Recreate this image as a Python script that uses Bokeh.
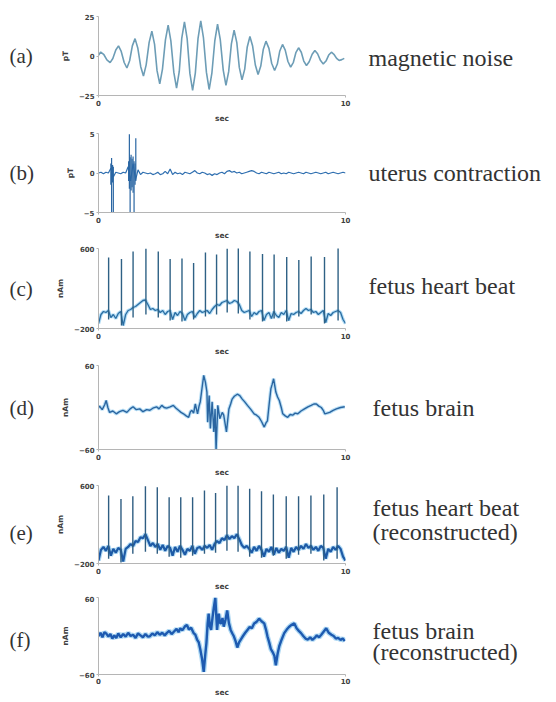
import numpy as np
from bokeh.plotting import figure
from bokeh.layouts import column, row
from bokeh.models import Range1d, FixedTicker
from bokeh.core.properties import value
from bokeh.embed import file_html
from bokeh.resources import INLINE

# ---------------- data ----------------
# (a) magnetic noise [pT]
a_t = [0.00, 0.09, 0.22, 0.34, 0.47, 0.58, 0.70, 0.81, 0.92, 1.04, 1.15, 1.26, 1.37, 1.48, 1.59,
       1.71, 1.82, 1.93, 2.05, 2.16, 2.27, 2.37, 2.48, 2.59, 2.71, 2.82, 2.93, 3.05, 3.16, 3.27,
       3.37, 3.48, 3.59, 3.70, 3.81, 3.92, 4.03, 4.14, 4.25, 4.37, 4.48, 4.59, 4.71, 4.82, 4.93,
       5.05, 5.16, 5.27, 5.38, 5.49, 5.60, 5.70, 5.81, 5.92, 6.02, 6.13, 6.24, 6.35, 6.46, 6.57,
       6.67, 6.78, 6.90, 7.01, 7.13, 7.24, 7.34, 7.45, 7.56, 7.67, 7.78, 7.89, 7.99, 8.10, 8.21,
       8.31, 8.42, 8.53, 8.65, 8.76, 8.87, 8.99, 9.10, 9.21, 9.32, 9.43, 9.53, 9.64, 9.74, 9.85, 9.95]
a_v = [0.5, 2.5, 0.8, -2.5, -4.2, -1.6, 3.8, 6.4, 2.9, -4.1, -7.6, -3.0, 6.4, 11.0, 5.1,
       -6.8, -12.7, -5.6, 8.6, 15.7, 7.4, -9.3, -17.6, -8.3, 10.2, 19.5, 9.6, -10.4, -20.3, -9.8,
       11.1, 21.6, 10.8, -11.0, -21.8, -10.8, 11.2, 22.2, 11.4, -10.4, -21.2, -10.9, 9.8, 20.1, 10.4,
       -8.9, -18.6, -9.9, 7.7, 16.4, 8.5, -7.2, -15.1, -8.3, 5.5, 12.3, 6.3, -5.7, -11.7, -6.4,
       4.1, 9.4, 4.8, -4.6, -9.2, -5.1, 3.2, 7.3, 3.7, -3.5, -7.1, -4.0, 2.1, 5.2, 2.4,
       -3.2, -6.0, -3.6, 1.1, 3.5, 1.4, -2.9, -5.0, -3.2, 0.6, 2.4, 1.1, -1.5, -2.8, -2.3, -1.5]

# (b) uterus contraction [pT]: baseline every 0.1 s, plus burst spikes
b_base = [0.0, 0.1, -0.1, 0.1, 0.0, 0.6, -0.5, 0.1, 0.0, -0.1,
          0.1, 0.0, 0.8, -1.0, 1.2, -0.9, 0.4, -0.2, 0.1, 0.0,
          -0.1, 0.0, -0.2, -0.1, 0.1, -0.2, -0.1, 0.2, -0.1, 0.5,
          -0.2, 0.1, -0.1, 0.0, -0.2, 0.1, 0.0, -0.1, 0.1, 0.3,
          0.0, -0.1, 0.1, 0.0, -0.2, -0.1, -0.3, -0.1, -0.2, 0.0,
          0.1, -0.1, 0.2, 0.3, 0.1, 0.2, 0.0, 0.1, -0.1, 0.0,
          0.1, 0.2, 0.3, 0.2, 0.0, -0.1, 0.1, 0.0, -0.1, 0.1,
          0.0, -0.1, 0.0, 0.1, -0.1, 0.0, -0.1, 0.1, 0.0, -0.1,
          0.0, 0.1, 0.0, -0.1, 0.1, 0.0, -0.1, 0.0, 0.1, 0.0,
          -0.1, 0.0, 0.1, -0.1, 0.0, 0.1, 0.0, -0.1, 0.0, 0.1, 0.0]
b_sp_t = [0.50, 0.53, 0.57, 0.60, 1.22, 1.25, 1.28, 1.32, 1.36, 1.40, 1.44, 1.48, 1.51]
b_sp_lo = [-1.5, -5.0, -1.2, -5.0, -1.0, -2.0, -5.0, -2.2, -1.8, -2.5, -5.0, -1.5, -1.0]
b_sp_hi = [1.2, 1.9, 1.0, 0.8, 1.5, 4.9, 2.0, 2.3, 1.8, 2.1, 1.5, 1.2, 4.4]

# (c) fetus heart beat [nAm]
c_beat_t = [0.41, 0.93, 1.40, 1.92, 2.42, 2.90, 3.38, 3.85, 4.33, 4.78,
            5.21, 5.66, 6.13, 6.64, 7.11, 7.62, 8.11, 8.61, 9.15, 9.70]
c_peak = [510, 495, 570, 600, 570, 495, 500, 455, 560, 540,
          600, 610, 570, 545, 540, 515, 485, 520, 515, 605]
c_dip = [-110, -170, -90, -60, -90, -120, -130, -110, -80, -60,
         -40, -50, -110, -130, -100, -130, -80, -60, -150, -120]
c_base = [-150, -60, -30, -40, -20, -90, -60, -100, -50, -30,
          -170, -60, -20, -10, 10, 20, 40, 60, 80, 85,
          40, -10, 0, -20, -10, -40, -20, -60, -30, -20,
          -110, -40, -70, -30, -50, -120, -60, -40, -30, -90,
          -50, -20, -40, -30, -20, -50, -10, 20, 40, 30,
          60, 70, 80, 50, 60, 80, 70, 40, -20, -40,
          -30, -20, -80, -40, -60, -30, -20, -120, -60, -40,
          -100, -30, -70, -90, -40, -60, -20, -120, -50, -60,
          -40, -30, -50, -20, 0, -20, -10, -40, -30, -60,
          -40, -20, -140, -50, -70, -40, -30, -20, -40, -110, -150]

# (d) fetus brain [nAm]
d_t = [0.00, 0.04, 0.15, 0.25, 0.31, 0.38, 0.45, 0.58, 0.72, 0.85,
       0.99, 1.15, 1.28, 1.40, 1.52, 1.67, 1.80, 1.95, 2.08, 2.20,
       2.35, 2.45, 2.56, 2.66, 2.76, 2.90, 3.03, 3.14, 3.24, 3.34,
       3.44, 3.55, 3.65, 3.72, 3.78, 3.85, 3.92, 4.01, 4.07, 4.12,
       4.20, 4.26, 4.33, 4.39, 4.42, 4.48, 4.53, 4.60, 4.67, 4.72,
       4.76, 4.83, 4.91, 5.01, 5.07, 5.18, 5.28, 5.35, 5.41, 5.50,
       5.62, 5.72, 5.82, 5.92, 6.03, 6.15, 6.30, 6.40, 6.50, 6.60,
       6.71, 6.78, 6.84, 6.91, 6.98, 7.03, 7.09, 7.18, 7.25, 7.32,
       7.40, 7.46, 7.56, 7.66, 7.76, 7.86, 7.96, 8.07, 8.20, 8.34,
       8.48, 8.61, 8.72, 8.82, 8.92, 9.02, 9.10, 9.16, 9.26, 9.36,
       9.50, 9.63, 9.80, 9.97]
d_v = [0, 2, -3, 4, 10, 0, -7, -5, -9, -6,
       -4, -7, -2, 1, -3, -2, -6, -3, -4, -1,
       1, -2, 3, 0, -1, 1, 3, -1, -4, -7,
       -9, -12, -14, -6, -4, -8, 5, -9, 2, 8,
       30, 46, 36, 22, -21, 17, -30, 8, -35, -2,
       -61, 3, -16, -7, -11, -35, -2, 5, 12, 16,
       19, 17, 12, 8, 3, -2, -9, -11, -14, -20,
       -28, -22, -19, 5, 27, 33, 41, 22, 15, 10,
       0, -9, -12, -14, -10, -11, -8, -9, -5, -2,
       1, 3, 5, 5, 2, 0, -4, -9, -8, -7,
       -4, -2, 0, 1]

# (e) fetus heart beat, reconstructed [nAm]
e_beat_t = [0.41, 0.91, 1.39, 1.90, 2.38, 2.86, 3.33, 3.81, 4.29, 4.74,
            5.20, 5.65, 6.12, 6.60, 7.08, 7.60, 8.10, 8.60, 9.12, 9.66]
e_peak = [497, 462, 490, 593, 583, 480, 480, 480, 548, 524,
          600, 600, 566, 541, 507, 490, 490, 497, 507, 583]
e_dip = [-150, -190, -100, -80, -100, -130, -140, -120, -100, -90,
         -70, -80, -130, -140, -120, -150, -110, -100, -170, -150]
e_base = [-170, -60, -30, -70, -20, -120, -50, -90, -40, -60,
          -180, -50, -30, 0, -20, 30, 20, 70, 60, 100,
          40, -20, 10, -30, 0, -60, -10, -70, -20, -40,
          -120, -30, -80, -20, -60, -110, -50, -70, -20, -100,
          -40, -30, -60, -20, -40, -10, -60, 0, 30, 10,
          60, 40, 90, 50, 80, 60, 100, 50, -10, -40,
          -20, -50, -90, -30, -70, -20, -60, -130, -50, -80,
          -30, -110, -40, -90, -50, -70, -30, -140, -40, -80,
          -30, -60, -20, -50, 0, -40, -20, -60, -30, -70,
          -20, -40, -150, -50, -80, -30, -60, -20, -50, -130, -170]

# (f) fetus brain, reconstructed [nAm]
f_t = [0.00, 0.08, 0.16, 0.24, 0.31, 0.40, 0.48, 0.56, 0.64, 0.72,
       0.80, 0.90, 1.00, 1.10, 1.20, 1.30, 1.40, 1.50, 1.60, 1.70,
       1.80, 1.90, 2.00, 2.08, 2.18, 2.28, 2.38, 2.48, 2.58, 2.68,
       2.76, 2.86, 2.96, 3.06, 3.16, 3.24, 3.31, 3.40, 3.50, 3.58,
       3.66, 3.75, 3.85, 3.92, 3.99, 4.06, 4.12, 4.19, 4.26, 4.32,
       4.37, 4.42, 4.46, 4.51, 4.56, 4.62, 4.67, 4.73, 4.80, 4.87,
       4.92, 4.97, 5.02, 5.07, 5.14, 5.21, 5.28, 5.35, 5.42, 5.48,
       5.55, 5.62, 5.69, 5.76, 5.85, 5.94, 6.03, 6.12, 6.21, 6.30,
       6.40, 6.50, 6.60, 6.71, 6.78, 6.84, 6.91, 6.98, 7.05, 7.12,
       7.18, 7.25, 7.32, 7.42, 7.52, 7.62, 7.71, 7.80, 7.93, 8.02,
       8.11, 8.20, 8.29, 8.38, 8.48, 8.57, 8.66, 8.75, 8.84, 8.93,
       9.02, 9.12, 9.22, 9.32, 9.43, 9.52, 9.61, 9.70, 9.80, 9.89, 9.97]
f_v = [0, 5, -2, 6, 4, -1, 3, -4, 1, -3,
       4, -2, 3, -1, 5, 0, 2, -3, 4, 1,
       -2, 3, -1, -0.5, 4, 1, 6, 2, 5, 1,
       4.5, 8, 3, 7, 11, 6, 12, 9, 15, 17,
       10, 13, 4.5, 2, -5.5, -10, -20.6, -35, -55.8, -30,
       -10.6, 20, 34.7, 15, 9.5, 30, 44.7, 59.8, 9.5, 34.7,
       20, 19.6, 28, 14.6, 25, 39.7, 20, 9.5, 4, -0.5,
       -8, -18, -10, -5.5, 0, 5, 9.5, 14, 12, 19.6,
       22, 27, 23, 19.6, 10, -0.5, -10, -20.6, -25, -30.7,
       -45.7, -28, -15.6, -5, 4.5, 10, 14, 17, 19.6, 12,
       8, 4.5, 0, -4, -5.5, -2, -6, -3, 1, -2,
       2, 7, 12, 5, 2, 0, -4, -3, -6, -4, -8]

panel_tags = ["(a)", "(b)", "(c)", "(d)", "(e)", "(f)"]
panel_titles = [["magnetic noise"], ["uterus contraction"], ["fetus heart beat"],
                ["fetus brain"], ["fetus heart beat", "(reconstructed)"],
                ["fetus brain", "(reconstructed)"]]
y_units = ["pT", "pT", "nAm", "nAm", "nAm", "nAm"]
y_lims = [(-25, 25), (-5, 5), (-200, 600), (-60, 60), (-200, 600), (-60, 60)]
y_ticks = [[-25, 0, 25], [-5, 0, 5], [-200, 600], [-60, 60], [-200, 600], [-60, 60]]
x_ticks = [0, 10]

# ---------------- layout / styling ----------------
LEFT_W = 44          # column holding "(a)".."(f)"
BORDER_L = 54
FRAME_W = 247
BORDER_R = 12
RIGHT_W = 199        # column holding the descriptions
tops = [16, 6, 4, 5, 4, 2]
frame_hs = [79, 79, 80, 84, 78, 77]
bottoms = [32, 32, 32, 32, 32, 28]
label_standoffs = [5, 5, 5, 5, 5, 1]
tick_standoffs = [2, 2, 2, 2, 2, 1]
tag_x = 9
tag_y = [0, 0, 200, 0, 110, -7]
title_x = [11, 11, 11, 15, 15, 15]
title_y = [[-1], [0], [230], [0], [374, 118], [7.5, -25.5]]
SERIF = "Liberation Serif"
SANS = "DejaVu Sans"
TXT = "#333333"


def text_fig(i, w, xs, ys, texts, size):
    lo, hi = y_lims[i]
    t = figure(frame_width=w, frame_height=frame_hs[i], min_border_left=0, min_border_right=0,
               min_border_top=tops[i], min_border_bottom=bottoms[i],
               x_range=Range1d(0, w), y_range=Range1d(lo, hi),
               x_axis_location=None, y_axis_location=None,
               output_backend="svg", toolbar_location=None, outline_line_color=None,
               background_fill_color="white", border_fill_color="white")
    t.grid.visible = False
    t.text(x=xs, y=ys, text=texts, text_font=value(SERIF), text_font_size=value(size),
           text_baseline="middle", text_align="left", text_color=TXT)
    return t


def plot_fig(i):
    lo, hi = y_lims[i]
    p = figure(frame_width=FRAME_W, frame_height=frame_hs[i],
               min_border_left=BORDER_L, min_border_right=BORDER_R,
               min_border_top=tops[i], min_border_bottom=bottoms[i],
               x_range=Range1d(0, 10), y_range=Range1d(lo, hi),
               output_backend="svg", toolbar_location=None,
               background_fill_color="white", border_fill_color="white",
               outline_line_color=None)
    p.grid.visible = False
    p.xaxis.ticker = FixedTicker(ticks=x_ticks)
    p.yaxis.ticker = FixedTicker(ticks=y_ticks[i])
    for ax in (p.xaxis[0], p.yaxis[0]):
        ax.axis_line_color = "#b5b5b5"
        ax.major_tick_line_color = "#b5b5b5"
        ax.major_tick_out = 2
        ax.major_tick_in = 0
        ax.minor_tick_line_color = None
        ax.major_label_text_font = SANS
        ax.major_label_text_font_size = "7px"
        ax.major_label_text_font_style = "bold"
        ax.major_label_text_color = "#404040"
        ax.major_label_standoff = 2
        ax.axis_label_text_font = SANS
        ax.axis_label_text_font_size = "7.5px"
        ax.axis_label_text_font_style = "bold"
        ax.axis_label_text_color = "#404040"
    p.yaxis.axis_label = y_units[i]
    p.yaxis.axis_label_standoff = 6
    p.xaxis.axis_label = "sec"
    p.xaxis.axis_label_standoff = label_standoffs[i]
    p.xaxis.major_label_standoff = tick_standoffs[i]
    return p


figs = [plot_fig(i) for i in range(6)]

# (a)
figs[0].line(a_t, a_v, line_color="#6d9db6", line_width=1.6)

# (b)
bt = np.linspace(0, 10, len(b_base))
figs[1].line(bt, b_base, line_color="#2f6fb0", line_width=1.2)
figs[1].segment(x0=b_sp_t, y0=b_sp_lo, x1=b_sp_t, y1=b_sp_hi, line_color="#2a66a3", line_width=1.2)

# (c)
ct = np.linspace(0, 10, len(c_base))
figs[2].line(ct, c_base, line_color="#9fd3f2", line_width=3.5, line_alpha=0.8)
figs[2].line(ct, c_base, line_color="#2b6ea3", line_width=1.3)
figs[2].segment(x0=c_beat_t, y0=c_dip, x1=c_beat_t, y1=c_peak, line_color="#2e6185", line_width=1.4)

# (d)
figs[3].line(d_t, d_v, line_color="#a6d6f2", line_width=3.5, line_alpha=0.8)
figs[3].line(d_t, d_v, line_color="#2a65a0", line_width=1.4)

# (e)
et = np.linspace(0, 10, len(e_base))
figs[4].line(et, e_base, line_color="#8cc8ee", line_width=4.5, line_alpha=0.7)
figs[4].line(et, e_base, line_color="#1d5aa6", line_width=2.2)
figs[4].segment(x0=e_beat_t, y0=e_dip, x1=e_beat_t, y1=e_peak, line_color="#2e5d82", line_width=1.4)

# (f)
figs[5].line(f_t, f_v, line_color="#8cc8ee", line_width=5, line_alpha=0.7)
figs[5].line(f_t, f_v, line_color="#1d5ab0", line_width=2.4)

rows = []
for i in range(6):
    left = text_fig(i, LEFT_W, [tag_x], [tag_y[i]], [panel_tags[i]], "21px")
    right = text_fig(i, RIGHT_W, [title_x[i]] * len(panel_titles[i]), title_y[i],
                     panel_titles[i], "24px")
    rows.append(row(left, figs[i], right, spacing=0))

layout = column(*rows, spacing=0)
open("out.html", "w").write(file_html(layout, INLINE))
